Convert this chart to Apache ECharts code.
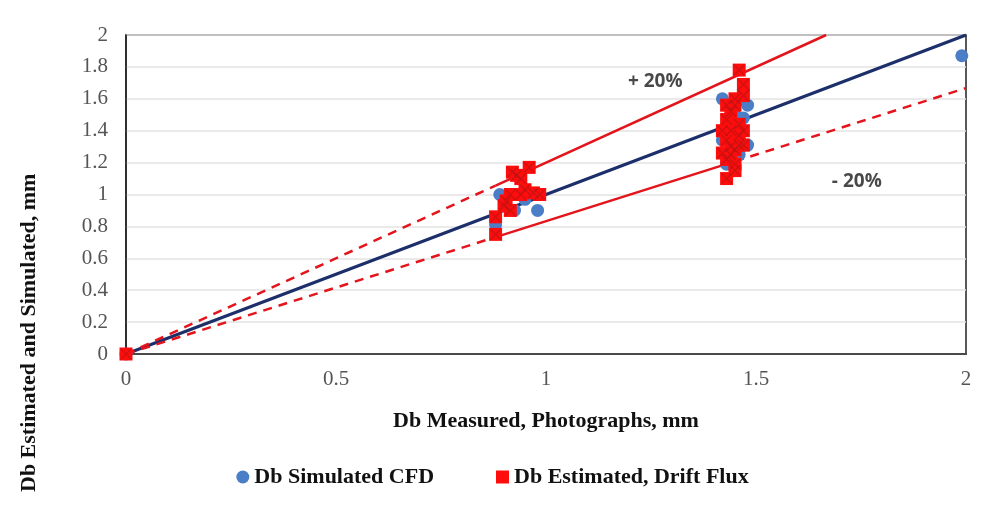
<!DOCTYPE html>
<html>
<head>
<meta charset="utf-8">
<script src="https://cdn.jsdelivr.net/npm/echarts@6/dist/echarts.min.js"></script>
<style>
  html, body { margin: 0; padding: 0; background: #fff; }
  #chart { width: 985px; height: 509px; }
</style>
</head>
<body>
<div id="chart"></div>
<script>
  // Db measured (x) vs simulated / estimated (y), mm
  var cfdX = [0, 0.88, 0.89, 0.925, 0.95, 0.98, 1.42, 1.48, 1.45, 1.47, 1.42, 1.48, 1.46, 1.43, 1.99];
  var cfdY = [0, 0.81, 1.00, 0.90, 0.97, 0.90, 1.60, 1.56, 1.50, 1.48, 1.34, 1.31, 1.25, 1.19, 1.87];

  var driftX = [0, 0.88, 0.88, 0.90, 0.905, 0.915, 0.915, 0.92, 0.93, 0.94, 0.96, 0.94, 0.95, 0.97, 0.985,
                1.46, 1.47, 1.47, 1.45, 1.45, 1.43, 1.44, 1.43, 1.44, 1.42, 1.46, 1.47, 1.46, 1.43,
                1.45, 1.44, 1.46, 1.47, 1.42, 1.43, 1.44, 1.45, 1.45, 1.43];
  var driftY = [0, 0.86, 0.75, 0.93, 0.96, 1.00, 0.90, 1.14, 1.12, 1.10, 1.17, 1.00, 1.03, 1.01, 1.00,
                1.78, 1.69, 1.62, 1.60, 1.56, 1.56, 1.52, 1.47, 1.40, 1.40, 1.44, 1.40, 1.37, 1.34,
                1.28, 1.30, 1.31, 1.31, 1.26, 1.22, 1.25, 1.19, 1.15, 1.10];

  var xTicks = [0, 0.5, 1, 1.5, 2];
  var yTicks = [0, 0.2, 0.4, 0.6, 0.8, 1, 1.2, 1.4, 1.6, 1.8, 2];

  // reference lines: y = x, +20 % (y = 1.2x), -20 % (y = x / 1.2)
  var perfectLine = [[0, 0], [2, 2]];
  var plusDashed = [[0, 0], [0.88, 1.056]];
  var plusSolid = [[0.88, 1.056], [1.667, 2]];
  var minusDashedA = [[0, 0], [0.88, 0.733]];
  var minusSolid = [[0.88, 0.733], [1.45, 1.208]];
  var minusDashedB = [[1.45, 1.208], [2, 1.667]];

  var bandLabels = [
    { text: '+ 20%', x: 1.26, y: 1.71 },
    { text: '- 20%', x: 1.74, y: 1.08 }
  ];

  function zip(xs, ys) {
    return xs.map(function (x, i) { return [x, ys[i]]; });
  }

  var SERIF = '"Liberation Serif", "DejaVu Serif", serif';
  var RED = '#e3141b';
  var NAVY = '#1c2f6b';
  var CROSS = 'path://M0,0L1,0L5,4L9,0L10,0L10,1L6,5L10,9L10,10L9,10L5,6L1,10L0,10L0,9L4,5L0,1Z';

  function refLine(data, color, width, type) {
    return {
      type: 'line', data: data, symbol: 'none', silent: true, z: 1,
      lineStyle: { color: color, width: width, type: type },
      animation: false
    };
  }

  var chart = echarts.init(document.getElementById('chart'));
  chart.setOption({
    backgroundColor: '#fff',
    animation: false,
    grid: { left: 126, right: 19, top: 35, bottom: 155, show: true, borderColor: '#222', borderWidth: 1.5 },
    graphic: [{
      type: 'text',
      x: 18, y: 492,
      rotation: Math.PI / 2,
      style: {
        text: 'Db Estimated and Simulated, mm',
        fontFamily: SERIF, fontWeight: 'bold', fontSize: 22, fill: '#111'
      }
    }],
    legend: {
      bottom: 16, left: 'center', itemGap: 62, itemWidth: 13, itemHeight: 13,
      data: [
        { name: 'Db Simulated CFD', icon: 'circle' },
        { name: 'Db Estimated, Drift Flux', icon: 'rect' }
      ],
      textStyle: { fontFamily: SERIF, fontWeight: 'bold', fontSize: 22, color: '#111' }
    },
    xAxis: {
      type: 'value', min: 0, max: 2, interval: 0.5,
      name: 'Db Measured, Photographs, mm', nameLocation: 'middle', nameGap: 56,
      nameTextStyle: { fontFamily: SERIF, fontWeight: 'bold', fontSize: 22, color: '#111' },
      axisLine: { show: true, lineStyle: { color: '#222', width: 1.5 } },
      axisTick: { show: false },
      splitLine: { show: false },
      axisLabel: {
        fontFamily: SERIF, fontSize: 21, color: '#555', margin: 15,
        formatter: function (v) { return xTicks.indexOf(v) >= 0 ? String(v) : ''; }
      }
    },
    yAxis: {
      type: 'value', min: 0, max: 2, interval: 0.2,
      axisLine: { show: true, lineStyle: { color: '#222', width: 1.5 } },
      axisTick: { show: false },
      splitLine: { show: true, lineStyle: { color: '#e3e3e3', width: 1.5 } },
      axisLabel: {
        fontFamily: SERIF, fontSize: 21, color: '#555', margin: 18,
        formatter: function (v) {
          var r = Math.round(v * 10) / 10;
          return yTicks.indexOf(r) >= 0 ? String(r) : '';
        }
      }
    },
    series: [
      refLine(perfectLine, NAVY, 3, 'solid'),
      refLine(plusDashed, RED, 2.5, [9, 7]),
      refLine(plusSolid, RED, 2.5, 'solid'),
      refLine(minusDashedA, RED, 2.5, [9, 7]),
      refLine(minusSolid, RED, 2.5, 'solid'),
      refLine(minusDashedB, RED, 2.5, [9, 7]),
      {
        name: 'Db Simulated CFD', type: 'scatter', z: 3,
        data: zip(cfdX, cfdY), symbol: 'circle', symbolSize: 13,
        itemStyle: { color: '#4a7ec6', opacity: 1 }
      },
      {
        name: 'Db Estimated, Drift Flux', type: 'scatter', z: 4,
        data: zip(driftX, driftY), symbol: 'rect', symbolSize: 13,
        itemStyle: { color: '#ff0d0d', opacity: 1 }
      },
      {
        name: 'cross', type: 'scatter', z: 5, silent: true,
        data: zip(driftX, driftY), symbol: CROSS, symbolSize: 11,
        itemStyle: { color: '#b51414', opacity: 0.6 }
      },
      {
        name: 'bands', type: 'scatter', z: 6, silent: true, symbolSize: 0,
        data: bandLabels.map(function (b) { return { value: [b.x, b.y], name: b.text }; }),
        label: {
          show: true, position: 'inside', formatter: '{b}',
          fontFamily: '"Open Sans", "DejaVu Sans", sans-serif', fontWeight: 'bold', fontSize: 19, color: '#1a1a1a'
        }
      }
    ]
  });
</script>
</body>
</html>
